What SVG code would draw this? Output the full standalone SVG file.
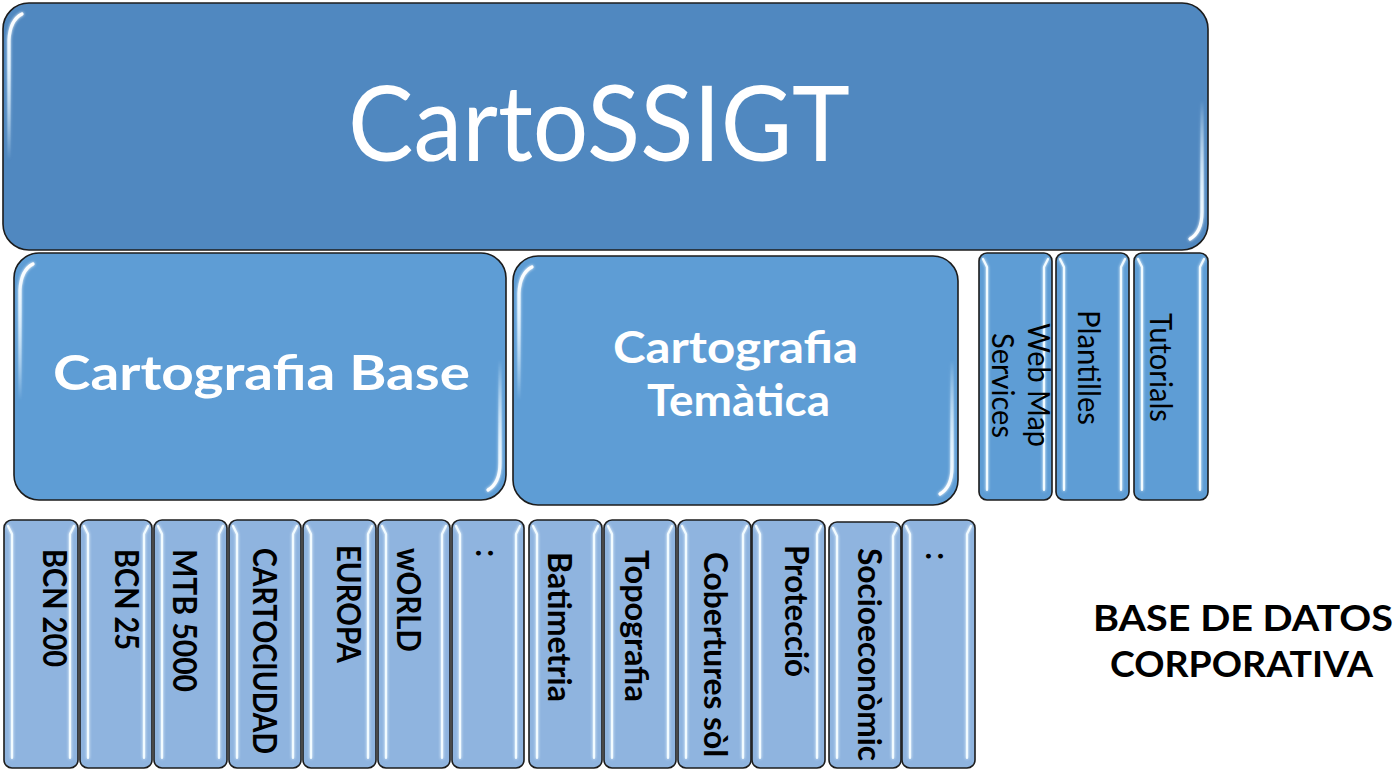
<svg xmlns="http://www.w3.org/2000/svg" width="1400" height="770" viewBox="0 0 1400 770">
<defs>
<style>
.big{fill:#5088c0;stroke:#1c1c1c;stroke-width:1.6}
.mid{fill:#5e9dd5;stroke:#1c1c1c;stroke-width:1.6}
.nb{fill:#8fb4df;stroke:#1c1c1c;stroke-width:1.6}
.nt{fill:#5e9dd5;stroke:#1c1c1c;stroke-width:1.6}
.hl{fill:none;stroke:#f2fbff;stroke-width:2.2;stroke-linecap:round;stroke-linejoin:round}
.hd{fill:none;stroke:url(#fadeDown);stroke-width:3.2;stroke-linecap:round}
.hu{fill:none;stroke:url(#fadeUp);stroke-width:3.2;stroke-linecap:round}
.bt{font-family:Lato,"Open Sans","Liberation Sans",sans-serif;font-weight:700;font-size:32px;fill:#000}
.tt{font-family:Lato,"Open Sans","Liberation Sans",sans-serif;font-weight:400;font-size:30px;fill:#000}
.wt{font-family:Lato,"Open Sans","Liberation Sans",sans-serif;fill:#fff}
.lab{font-family:Lato,"Open Sans","Liberation Sans",sans-serif;font-weight:700;font-size:36px;fill:#000}
</style>
<linearGradient id="fadeDown" x1="0" y1="0" x2="0" y2="1">
<stop offset="0" stop-color="#ffffff" stop-opacity="1"/>
<stop offset="0.35" stop-color="#e6f5ff" stop-opacity="0.9"/>
<stop offset="1" stop-color="#dff2ff" stop-opacity="0"/>
</linearGradient>
<linearGradient id="fadeUp" x1="0" y1="1" x2="0" y2="0">
<stop offset="0" stop-color="#ffffff" stop-opacity="1"/>
<stop offset="0.35" stop-color="#e6f5ff" stop-opacity="0.9"/>
<stop offset="1" stop-color="#dff2ff" stop-opacity="0"/>
</linearGradient>
<filter id="glow" x="-50%" y="-5%" width="200%" height="110%">
<feGaussianBlur in="SourceGraphic" stdDeviation="1.4" result="b"/>
<feMerge><feMergeNode in="b"/><feMergeNode in="SourceGraphic"/></feMerge>
</filter>
</defs>
<rect width="1400" height="770" fill="#ffffff"/>

<g id="connectors"/>

<g id="node-cartossigt">
<rect class="big" x="3" y="3" width="1205" height="247" rx="26"/>
<g filter="url(#glow)">
<path class="hd" d="M 22 14 Q 10 20 9 40 V 160"/>
<path class="hu" d="M 1190 239 Q 1202 232 1202 212 V 100"/>
</g>
<text class="wt" x="348" y="161" font-size="104" textLength="502" lengthAdjust="spacingAndGlyphs">CartoSSIGT</text>
</g>

<g id="node-cartografia-base">
<rect class="mid" x="14" y="253" width="492" height="247" rx="25"/>
<g filter="url(#glow)">
<path class="hd" d="M 33 264 Q 21 270 20 290 V 400"/>
<path class="hu" d="M 488 490 Q 500 483 500 463 V 360"/>
</g>
<text class="wt" x="53" y="390" font-size="48" font-weight="700" textLength="417" lengthAdjust="spacingAndGlyphs">Cartografia Base</text>
</g>

<g id="node-cartografia-tematica">
<rect class="mid" x="513" y="256" width="445" height="249" rx="25"/>
<g filter="url(#glow)">
<path class="hd" d="M 532 267 Q 520 273 519 293 V 400"/>
<path class="hu" d="M 940 494 Q 952 487 952 467 V 360"/>
</g>
<text class="wt" font-size="44" font-weight="700"><tspan x="613" y="363" textLength="245" lengthAdjust="spacingAndGlyphs">Cartografia</tspan><tspan x="647" y="416" textLength="183" lengthAdjust="spacingAndGlyphs">Temàtica</tspan></text>
</g>

<g id="node-web-map-services">
<rect class="nt" x="979" y="253" width="73" height="247" rx="8"/>
<g filter="url(#glow)"><path class="hl" d="M 983 259 L 987 267 V 490"/><path class="hl" d="M 1048 259 L 1044 267 V 490"/></g>
<text class="tt" transform="translate(1028 323) rotate(90)" textLength="124" lengthAdjust="spacingAndGlyphs">Web Map</text>
<text class="tt" transform="translate(992 333) rotate(90)" textLength="105" lengthAdjust="spacingAndGlyphs">Services</text>
</g>

<g id="node-plantilles">
<rect class="nt" x="1056" y="253" width="73" height="247" rx="8"/>
<g filter="url(#glow)"><path class="hl" d="M 1060 259 L 1064 267 V 490"/><path class="hl" d="M 1125 259 L 1121 267 V 490"/></g>
<text class="tt" transform="translate(1078 310) rotate(90)" textLength="115" lengthAdjust="spacingAndGlyphs">Plantilles</text>
</g>

<g id="node-tutorials">
<rect class="nt" x="1134" y="253" width="74" height="247" rx="8"/>
<g filter="url(#glow)"><path class="hl" d="M 1138 259 L 1142 267 V 490"/><path class="hl" d="M 1204 259 L 1200 267 V 490"/></g>
<text class="tt" transform="translate(1150 313) rotate(90)" textLength="109" lengthAdjust="spacingAndGlyphs">Tutorials</text>
</g>

<g id="node-bcn200">
<rect class="nb" x="4" y="520" width="74" height="248" rx="8"/>
<g filter="url(#glow)"><path class="hl" d="M 8 526 L 12 534 V 758"/><path class="hl" d="M 74 526 L 70 534 V 758"/></g>
<text class="bt" transform="translate(43 549) rotate(90)" textLength="118" lengthAdjust="spacingAndGlyphs">BCN 200</text>
</g>

<g id="node-bcn25">
<rect class="nb" x="80" y="520" width="72" height="248" rx="8"/>
<g filter="url(#glow)"><path class="hl" d="M 84 526 L 88 534 V 758"/><path class="hl" d="M 148 526 L 144 534 V 758"/></g>
<text class="bt" transform="translate(115 549) rotate(90)" textLength="101" lengthAdjust="spacingAndGlyphs">BCN 25</text>
</g>

<g id="node-mtb5000">
<rect class="nb" x="154" y="520" width="73" height="248" rx="8"/>
<g filter="url(#glow)"><path class="hl" d="M 158 526 L 162 534 V 758"/><path class="hl" d="M 223 526 L 219 534 V 758"/></g>
<text class="bt" transform="translate(173 549) rotate(90)" textLength="143" lengthAdjust="spacingAndGlyphs">MTB 5000</text>
</g>

<g id="node-cartociudad">
<rect class="nb" x="229" y="520" width="72" height="248" rx="8"/>
<g filter="url(#glow)"><path class="hl" d="M 233 526 L 237 534 V 758"/><path class="hl" d="M 297 526 L 293 534 V 758"/></g>
<text class="bt" transform="translate(253 548) rotate(90)" textLength="206" lengthAdjust="spacingAndGlyphs">CARTOCIUDAD</text>
</g>

<g id="node-europa">
<rect class="nb" x="303" y="520" width="73" height="248" rx="8"/>
<g filter="url(#glow)"><path class="hl" d="M 307 526 L 311 534 V 758"/><path class="hl" d="M 372 526 L 368 534 V 758"/></g>
<text class="bt" transform="translate(337 545) rotate(90)" textLength="118" lengthAdjust="spacingAndGlyphs">EUROPA</text>
</g>

<g id="node-world">
<rect class="nb" x="378" y="520" width="72" height="248" rx="8"/>
<g filter="url(#glow)"><path class="hl" d="M 382 526 L 386 534 V 758"/><path class="hl" d="M 446 526 L 442 534 V 758"/></g>
<text class="bt" transform="translate(397 548) rotate(90)" textLength="104" lengthAdjust="spacingAndGlyphs">wORLD</text>
</g>

<g id="node-more-base">
<rect class="nb" x="452" y="520" width="72" height="248" rx="8"/>
<g filter="url(#glow)"><path class="hl" d="M 456 526 L 460 534 V 758"/><path class="hl" d="M 520 526 L 516 534 V 758"/></g>
<text class="bt" transform="translate(476 549) rotate(90)">:</text>
</g>

<g id="node-batimetria">
<rect class="nb" x="529" y="520" width="73" height="248" rx="8"/>
<g filter="url(#glow)"><path class="hl" d="M 533 526 L 537 534 V 758"/><path class="hl" d="M 598 526 L 594 534 V 758"/></g>
<text class="bt" transform="translate(548 552) rotate(90)" textLength="150" lengthAdjust="spacingAndGlyphs">Batimetria</text>
</g>

<g id="node-topografia">
<rect class="nb" x="604" y="520" width="72" height="248" rx="8"/>
<g filter="url(#glow)"><path class="hl" d="M 608 526 L 612 534 V 758"/><path class="hl" d="M 672 526 L 668 534 V 758"/></g>
<text class="bt" transform="translate(625 550) rotate(90)" textLength="152" lengthAdjust="spacingAndGlyphs">Topografia</text>
</g>

<g id="node-cobertures">
<rect class="nb" x="678" y="520" width="73" height="248" rx="8"/>
<g filter="url(#glow)"><path class="hl" d="M 682 526 L 686 534 V 758"/><path class="hl" d="M 747 526 L 743 534 V 758"/></g>
<text class="bt" transform="translate(704 552) rotate(90)" textLength="205" lengthAdjust="spacingAndGlyphs">Cobertures sòl</text>
</g>

<g id="node-proteccio">
<rect class="nb" x="752" y="520" width="73" height="248" rx="8"/>
<g filter="url(#glow)"><path class="hl" d="M 756 526 L 760 534 V 758"/><path class="hl" d="M 821 526 L 817 534 V 758"/></g>
<text class="bt" transform="translate(785 545) rotate(90)" textLength="132" lengthAdjust="spacingAndGlyphs">Protecció</text>
</g>

<g id="node-socioeconomic">
<rect class="nb" x="829" y="522" width="72" height="246" rx="8"/>
<g filter="url(#glow)"><path class="hl" d="M 833 528 L 837 536 V 758"/><path class="hl" d="M 897 528 L 893 536 V 758"/></g>
<text class="bt" transform="translate(858 548) rotate(90)" textLength="213" lengthAdjust="spacingAndGlyphs">Socioeconòmic</text>
</g>

<g id="node-more-tematica">
<rect class="nb" x="902" y="520" width="73" height="248" rx="8"/>
<g filter="url(#glow)"><path class="hl" d="M 906 526 L 910 534 V 758"/><path class="hl" d="M 971 526 L 967 534 V 758"/></g>
<text class="bt" transform="translate(926 552) rotate(90)">:</text>
</g>

<g id="label-base-datos">
<text class="lab"><tspan x="1093" y="631" textLength="300" lengthAdjust="spacingAndGlyphs">BASE DE DATOS</tspan><tspan x="1110" y="677" textLength="263" lengthAdjust="spacingAndGlyphs">CORPORATIVA</tspan></text>
</g>
</svg>
